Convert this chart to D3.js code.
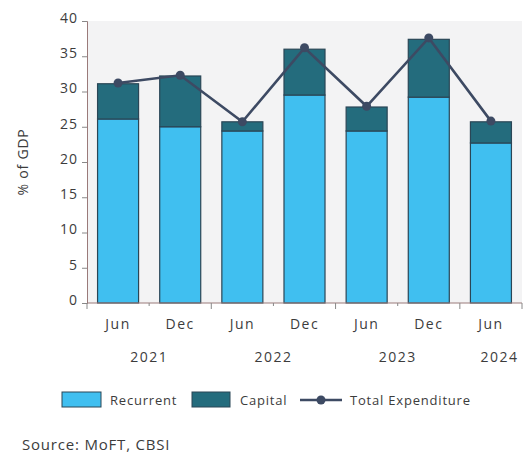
<!DOCTYPE html>
<html>
<head>
<meta charset="utf-8">
<script src="https://cdn.jsdelivr.net/npm/d3@7"></script>
<style>
  html, body { margin: 0; padding: 0; background: #ffffff; }
  svg { display: block; font-family: "Open Sans", sans-serif; }
</style>
</head>
<body>
<svg id="chart" width="524" height="453"></svg>
<script>
// Government expenditure, % of GDP, half-yearly
const periods   = ["Jun 2021", "Dec 2021", "Jun 2022", "Dec 2022", "Jun 2023", "Dec 2023", "Jun 2024"];
const months    = ["Jun", "Dec", "Jun", "Dec", "Jun", "Dec", "Jun"];
const years     = ["2021", "2021", "2022", "2022", "2023", "2023", "2024"];
const recurrent = [26.1, 25.0, 24.4, 29.5, 24.4, 29.2, 22.7];
const capital   = [5.0, 7.2, 1.3, 6.5, 3.4, 8.2, 3.0];
const total     = [31.2, 32.3, 25.7, 36.2, 27.9, 37.6, 25.8];
const yTicks    = [0, 5, 10, 15, 20, 25, 30, 35, 40];
const seriesNames = ["Recurrent", "Capital", "Total Expenditure"];
const source    = "Source: MoFT, CBSI";

const colors = { recurrent: "#40bff0", capital: "#246c7d", line: "#3d4a63", barStroke: "#2a4656" };
const textColor = "#3c3c3c";

const svg = d3.select("#chart");
const plot = { left: 87, right: 522, top: 21, bottom: 303 };

const x = d3.scaleBand().domain(periods).range([plot.left, plot.right]).paddingInner(0.34).paddingOuter(0.17);
const y = d3.scaleLinear().domain([0, 40]).range([plot.bottom, plot.top]);

// plot area background
svg.append("rect")
  .attr("x", plot.left).attr("y", plot.top)
  .attr("width", plot.right - plot.left).attr("height", plot.bottom - plot.top)
  .attr("fill", "#f3f3f4");

// stacked bars
const rows = periods.map((p, i) => ({ period: p, recurrent: recurrent[i], capital: capital[i] }));
const stack = d3.stack().keys(["recurrent", "capital"])(rows);
svg.append("g").selectAll("g").data(stack).join("g")
  .attr("fill", d => colors[d.key])
  .selectAll("rect").data(d => d).join("rect")
  .attr("x", d => x(d.data.period))
  .attr("y", d => y(d[1]))
  .attr("width", x.bandwidth())
  .attr("height", d => y(d[0]) - y(d[1]))
  .attr("stroke", colors.barStroke)
  .attr("stroke-width", 1.2);

// y axis
const yAxis = svg.append("g")
  .attr("transform", `translate(${plot.left},0)`)
  .call(d3.axisLeft(y).tickValues(yTicks).tickSize(5).tickPadding(4));
yAxis.select(".domain").attr("stroke", "#9a7a7a");
yAxis.selectAll(".tick line").attr("stroke", "#888");
yAxis.selectAll(".tick text")
  .attr("fill", textColor)
  .attr("dy", "0.1em")
  .style("font-size", "14px")
  .style("letter-spacing", "1px")
  .style("font-family", "Open Sans, sans-serif");

// x axis baseline and category boundary ticks
const step = x.step();
const xg = svg.append("g");
xg.append("line")
  .attr("x1", plot.left).attr("x2", plot.right)
  .attr("y1", y(0)).attr("y2", y(0))
  .attr("stroke", "#9a7a7a").attr("stroke-width", 1);
d3.range(periods.length + 1).forEach(i => {
  const bx = plot.left + i * step;
  const yearBreak = i === 0 || i === periods.length || years[i] !== years[i - 1];
  xg.append("line")
    .attr("x1", bx).attr("x2", bx)
    .attr("y1", y(0)).attr("y2", y(0) + (yearBreak ? 6 : 3))
    .attr("stroke", "#888");
});

// month labels
xg.selectAll("text.month").data(periods).join("text")
  .attr("class", "month")
  .attr("x", d => x(d) + x.bandwidth() / 2)
  .attr("y", 329)
  .attr("text-anchor", "middle")
  .attr("fill", textColor)
  .style("font-size", "14px")
  .style("letter-spacing", "1.5px")
  .text((d, i) => months[i]);

// year labels centred under each group of periods
const yearGroups = d3.groups(periods.map((p, i) => ({ p, year: years[i] })), d => d.year);
xg.selectAll("text.year").data(yearGroups).join("text")
  .attr("class", "year")
  .attr("x", ([, items]) => {
    const cx = d3.mean(items, d => x(d.p) + x.bandwidth() / 2);
    return items.length === 1 ? cx + step * 0.14 : cx;
  })
  .attr("y", 362)
  .attr("text-anchor", "middle")
  .attr("fill", textColor)
  .style("font-size", "14px")
  .style("letter-spacing", "1.5px")
  .text(([yr]) => yr);

// total expenditure line
const cx = d => x(d) + x.bandwidth() / 2;
const line = d3.line().x((d, i) => cx(periods[i])).y(d => y(d));
svg.append("path")
  .datum(total)
  .attr("d", line)
  .attr("fill", "none")
  .attr("stroke", colors.line)
  .attr("stroke-width", 2.6);
svg.append("g").selectAll("circle").data(total).join("circle")
  .attr("cx", (d, i) => cx(periods[i]))
  .attr("cy", d => y(d))
  .attr("r", 4.5)
  .attr("fill", colors.line);

// y axis title
svg.append("text")
  .attr("transform", `translate(28,162) rotate(-90)`)
  .attr("text-anchor", "middle")
  .attr("fill", textColor)
  .style("font-size", "14px")
  .style("letter-spacing", "0.8px")
  .text("% of GDP");

// legend
const legendText = { fill: textColor, size: "13px", spacing: "0.8px" };
const lg = svg.append("g").attr("transform", "translate(0,400)");
lg.append("rect").attr("x", 62).attr("y", -8).attr("width", 39).attr("height", 15)
  .attr("fill", colors.recurrent).attr("stroke", colors.barStroke).attr("stroke-width", 1);
lg.append("rect").attr("x", 192).attr("y", -8).attr("width", 38).attr("height", 15)
  .attr("fill", colors.capital).attr("stroke", colors.barStroke).attr("stroke-width", 1);
lg.append("line").attr("x1", 300).attr("x2", 342).attr("y1", 0).attr("y2", 0)
  .attr("stroke", colors.line).attr("stroke-width", 2.6);
lg.append("circle").attr("cx", 321).attr("cy", 0).attr("r", 4.5).attr("fill", colors.line);
lg.selectAll("text").data(seriesNames).join("text")
  .attr("x", (d, i) => [110, 240, 350][i])
  .attr("y", 4.5)
  .attr("fill", legendText.fill)
  .style("font-size", legendText.size)
  .style("letter-spacing", legendText.spacing)
  .text(d => d);

// source note
svg.append("text")
  .attr("x", 22).attr("y", 450)
  .attr("fill", textColor)
  .style("font-size", "15px")
  .style("letter-spacing", "0.8px")
  .text(source);
</script>
</body>
</html>
